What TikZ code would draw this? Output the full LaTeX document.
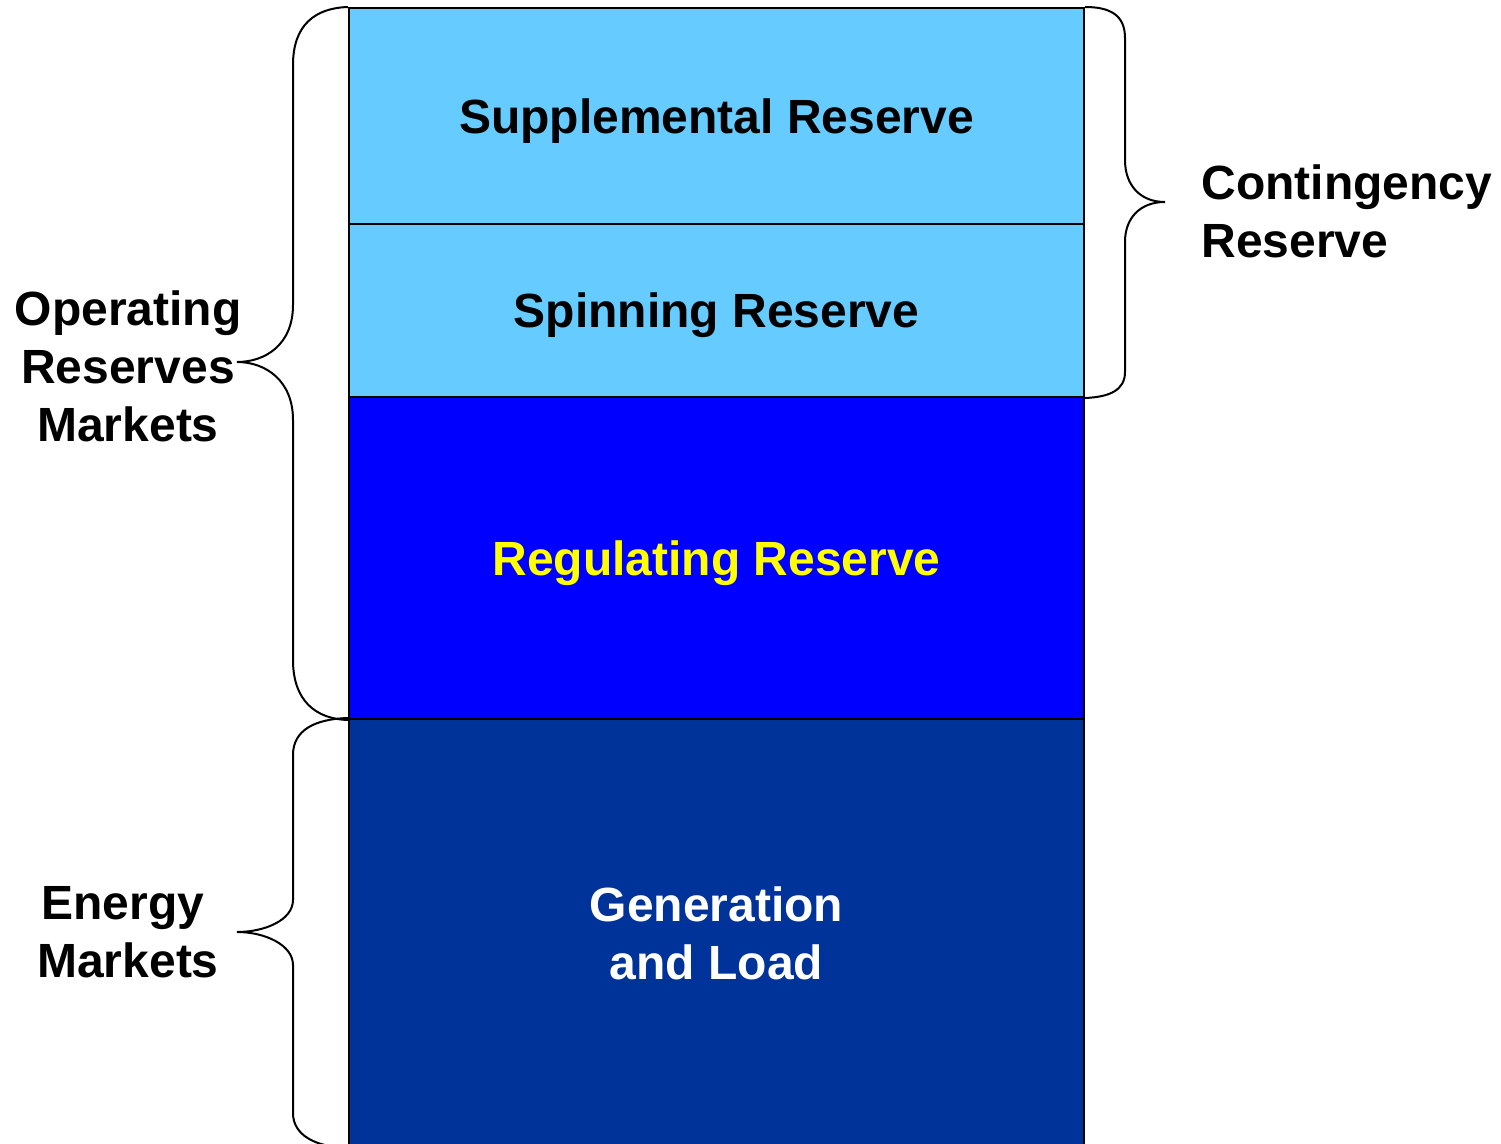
\documentclass[tikz,border=0pt]{standalone}
\usepackage{fontspec}
\setmainfont{Liberation Sans}
\begin{document}
\definecolor{lightres}{HTML}{66CCFF}
\definecolor{regblue}{HTML}{0000FF}
\definecolor{genblue}{HTML}{003399}
\definecolor{regtext}{HTML}{FFFF00}
\begin{tikzpicture}[x=0.5pt,y=-0.5pt,
  layer/.style={draw=black, line width=1pt, minimum width=367.5pt, inner sep=0pt,
    font=\fontsize{24}{29}\selectfont\bfseries, align=center, text depth=0pt},
  brace/.style={draw=black, line width=1pt},
  side/.style={font=\fontsize{24}{29}\selectfont\bfseries, inner sep=0pt}]
\useasboundingbox (0,0) rectangle (1501,1144);
\clip (0,0) rectangle (1501,1144);

% stacked layers
\node[layer, fill=lightres, minimum height=108pt] (sup) at (716.5,116) {Supplemental Reserve};
\node[layer, fill=lightres, minimum height=86.5pt] (spin) at (716.5,310.5) {Spinning Reserve};
\node[layer, fill=regblue, minimum height=161pt, text=regtext] (reg) at (716.5,558) {Regulating Reserve};
\node[layer, fill=genblue, minimum height=214pt, text=white] (gen) at (716.5,933) {Generation\\and Load};

% brace tips
\coordinate (optip) at (237,362);
\coordinate (entip) at (237,932);
\coordinate (cotip) at (1165,202);

% operating reserves brace
\draw[brace] (sup.north west) .. controls (315,8) and (293,25) .. (293,65) -- (293,305)
  .. controls (293,345) and (265,362) .. (optip)
  .. controls (265,362) and (293,380) .. (293,420) -- (293,660)
  .. controls (293,700) and (315,719) .. (reg.south west);

% energy markets brace
\draw[brace] (gen.north west) .. controls (315,719) and (293,730) .. (293,755) -- (293,900)
  .. controls (293,920) and (265,932) .. (entip)
  .. controls (265,932) and (293,945) .. (293,965) -- (293,1113)
  .. controls (293,1135) and (315,1147) .. (gen.south west);

% contingency reserve brace
\draw[brace] (sup.north east) .. controls (1110,7) and (1125,15) .. (1125,38) -- (1125,160)
  .. controls (1125,185) and (1140,202) .. (cotip)
  .. controls (1140,202) and (1125,218) .. (1125,242) -- (1125,372)
  .. controls (1125,390) and (1110,397) .. (spin.south east);

% labels
\node[side, align=center] (oplab) at (128,366) {Operating\\Reserves\\Markets};
\node[side, align=center] (enlab) at (128,932) {Energy\kern5pt\\Markets};
\node[side, align=left, anchor=west] (colab) at (1201,211) {Contingency\\Reserve};
\end{tikzpicture}
\end{document}
